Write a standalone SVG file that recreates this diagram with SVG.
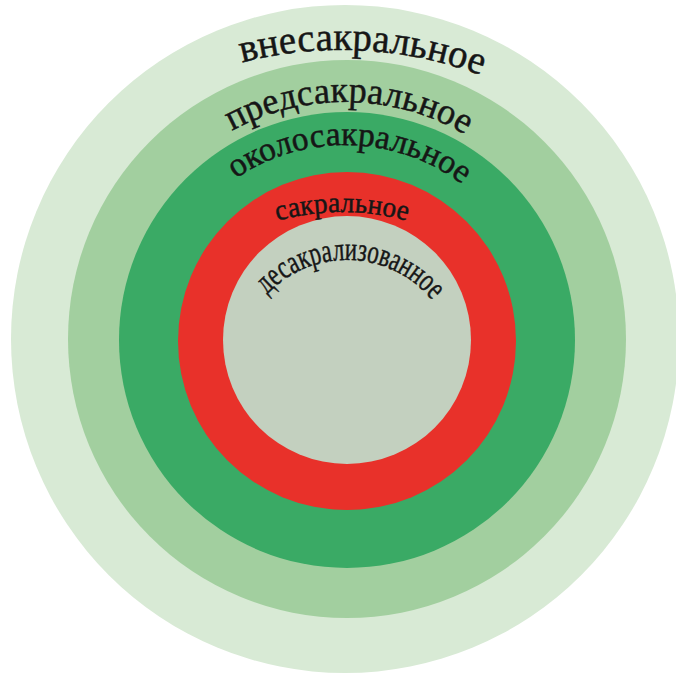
<svg xmlns="http://www.w3.org/2000/svg" xmlns:xlink="http://www.w3.org/1999/xlink" width="676" height="676" viewBox="0 0 676 676">
<style>
.lbl{font-family:"Liberation Serif","DejaVu Serif",serif;fill:#161616;stroke:#161616;stroke-width:0.5}
</style>
<defs>
<path id="p1" d="M58.2,167.2 A400,400 0 0 1 623.8,167.2"/>
<path id="p2" d="M139.8,220.5 A237,237 0 0 1 550.2,220.5"/>
<path id="p3" d="M161.8,273.3 A195,195 0 0 1 528.2,273.3"/>
<path id="p4" d="M172.3,282.3 A240,240 0 0 1 511.7,282.3"/>
<path id="p5" d="M237,370 A110,110 0 0 1 457,370"/>
</defs>
<rect width="676" height="676" fill="#ffffff"/>
<g id="outer">
<circle cx="345" cy="339" r="334" fill="#d8ead5"/>
</g>
<g id="pre">
<circle cx="347" cy="339" r="279" fill="#a2cf9f"/>
</g>
<g id="near">
<circle cx="347" cy="340" r="228" fill="#3aaa65"/>
</g>
<g id="sacral">
<circle cx="347" cy="341" r="169" fill="#e8312a"/>
</g>
<g id="desacral">
<circle cx="347" cy="340" r="124" fill="#c3d0bf"/>
</g>
<g id="labels">
<text class="lbl" font-size="40"><textPath xlink:href="#p1" href="#p1" startOffset="214" textLength="243" lengthAdjust="spacingAndGlyphs">внесакральное</textPath></text>
<text class="lbl" font-size="37"><textPath xlink:href="#p2" href="#p2" startOffset="130" textLength="244" lengthAdjust="spacingAndGlyphs">предсакральное</textPath></text>
<text class="lbl" font-size="34"><textPath xlink:href="#p3" href="#p3" startOffset="122" textLength="242" lengthAdjust="spacingAndGlyphs">околосакральное</textPath></text>
<text class="lbl" font-size="29"><textPath xlink:href="#p4" href="#p4" startOffset="123" textLength="131" lengthAdjust="spacingAndGlyphs">сакральное</textPath></text>
<text class="lbl" font-size="33"><textPath xlink:href="#p5" href="#p5" startOffset="83" textLength="187" lengthAdjust="spacingAndGlyphs">десакрализованное</textPath></text>
</g>
<g id="connectors"/>
</svg>
